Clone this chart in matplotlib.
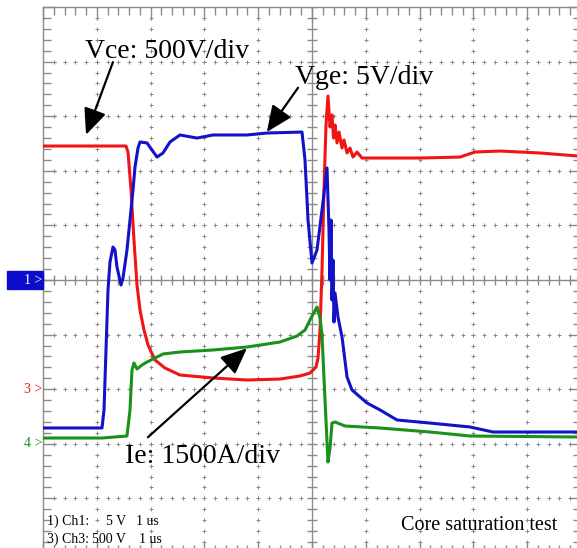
import matplotlib
matplotlib.use("Agg")
import matplotlib.pyplot as plt
import matplotlib.transforms as mtransforms
from matplotlib.patches import Rectangle
import numpy as np

# scope settings (per division) and ground offsets (divisions from centre)
T_DIV = 1.0          # us/div
CH1_SCALE = 5.0      # Vge, V/div
CH3_SCALE = 500.0    # Vce, V/div
CH4_SCALE = 1500.0   # Ie, A/div
CH1_OFS = 0.0
CH3_OFS = -2.0
CH4_OFS = -3.0

# Vce (ch3), red
t_vce = [0.0, 1.543, 1.580, 1.636, 1.691, 1.747, 1.803, 1.877, 1.952, 2.082,
         2.268, 2.546, 3.160, 3.792, 4.405, 4.777, 4.963, 5.074, 5.112, 5.149,
         5.186, 5.223, 5.260, 5.297, 5.335, 5.372, 5.400, 5.428, 5.465, 5.502,
         5.558, 5.595, 5.651, 5.706, 5.762, 5.836, 5.929, 6.264, 7.007, 7.751,
         8.030, 8.494, 9.238, 9.926]
vce = [2227, 2227, 2172, 1824, 1366, 954, 725, 542, 405, 267,
       194, 130, 103, 84, 93, 121, 148, 203, 286, 542,
       1092, 1824, 2419, 2685, 2401, 2511, 2300, 2419, 2255, 2355,
       2209, 2282, 2163, 2209, 2126, 2172, 2117, 2117, 2117, 2126,
       2172, 2181, 2163, 2136]

# Vge (ch1), blue
t_vge = [0.0, 1.097, 1.134, 1.171, 1.208, 1.245, 1.301, 1.338, 1.375, 1.450,
         1.487, 1.561, 1.617, 1.673, 1.710, 1.766, 1.803, 1.933, 2.026, 2.119,
         2.230, 2.361, 2.546, 2.862, 3.160, 3.792, 4.164, 4.814, 4.870, 4.926,
         5.000, 5.093, 5.186, 5.279, 5.316, 5.335, 5.353, 5.372, 5.390, 5.409,
         5.428, 5.483, 5.558, 5.651, 5.743, 5.892, 6.022, 6.264, 6.580, 7.193,
         7.937, 8.364, 9.926]
vge = [-13.55, -13.55, -11.90, -6.41, -0.92, 1.65, 3.02, 2.75, 1.19, -0.46,
       0.18, 2.75, 5.49, 8.24, 10.35, 12.09, 12.64, 12.55, 11.90, 11.26,
       11.63, 12.64, 13.28, 13.00, 13.28, 13.28, 13.46, 13.55, 10.99, 5.49,
       1.56, 2.75, 6.41, 10.26, 4.58, 0.0, 5.49, -1.83, 1.83, -3.85,
       -1.19, -3.39, -5.22, -8.88, -10.07, -10.71, -11.26, -11.90, -12.82, -13.10,
       -13.46, -13.92, -13.92]

# Ie (ch4), green
t_ie = [0.0, 1.097, 1.561, 1.617, 1.654, 1.691, 1.747, 1.840, 1.933, 2.230,
        2.546, 3.160, 3.792, 4.405, 4.721, 4.870, 4.963, 5.093, 5.149, 5.186,
        5.242, 5.297, 5.335, 5.372, 5.428, 5.613, 6.264, 7.193, 7.937, 9.926]
ie = [159, 159, 214, 928, 2027, 2220, 2055, 2165, 2247, 2467,
      2522, 2577, 2659, 2796, 2961, 3126, 3401, 3758, 3456, 2989,
      1203, -500, -115, 572, 599, 489, 434, 324, 214, 187]

RED = "#f01414"
BLUE = "#1212c8"
GREEN = "#1a911a"
GRAY = "#8a8a8a"

W, H = 577, 548
fig = plt.figure(figsize=(W / 100, H / 100), dpi=100)
fig.patch.set_facecolor("white")
plt.rcParams["font.family"] = ["Liberation Serif", "DejaVu Serif"]

# screen spans 10 x 10 div; it is cut off at the right and bottom
ax = fig.add_axes([43 / W, (H - 553) / H, 538 / W, 546 / H])
ax.set_xlim(0, 10)
ax.set_ylim(-5, 5)
for s in ax.spines.values():
    s.set_color(GRAY)
    s.set_linewidth(1.0)
ax.set_xticks(np.arange(0, 10.01, 1))
ax.set_yticks(np.arange(-5, 5.01, 1))
ax.set_xticks(np.arange(0, 10.01, 0.2), minor=True)
ax.set_yticks(np.arange(-5, 5.01, 0.2), minor=True)
ax.tick_params(which="both", direction="in", colors=GRAY, labelleft=False,
               labelbottom=False, top=True, right=True)
ax.tick_params(which="major", length=9, width=1)
ax.tick_params(which="minor", length=6, width=1)

# graticule: centre axes with ticks, dotted division lines
ax.axhline(0, color=GRAY, lw=1, zorder=1)
ax.axvline(5, color=GRAY, lw=1, zorder=1)
minor = np.arange(0, 10.01, 0.2)
minor_y = np.arange(-5, 5.01, 0.2)
ax.plot(minor, np.zeros_like(minor), ls="none", marker="|", ms=7, mew=1,
        color=GRAY, zorder=1)
ax.plot(np.full_like(minor_y, 5), minor_y, ls="none", marker="_", ms=7, mew=1,
        color=GRAY, zorder=1)
for k in range(-4, 5):
    if k != 0:
        ax.plot(minor, np.full_like(minor, k), ls="none", marker="+", ms=3,
                mew=0.7, color=GRAY, zorder=1)
for k in range(1, 10):
    if k != 5:
        ax.plot(np.full_like(minor_y, k), minor_y, ls="none", marker="+",
                ms=3, mew=0.7, color=GRAY, zorder=1)

# traces
def to_div(vals, scale, ofs):
    return np.asarray(vals, dtype=float) / scale + ofs

ax.plot(np.asarray(t_vce) / T_DIV, to_div(vce, CH3_SCALE, CH3_OFS), color=RED,
        lw=2.2, zorder=3)
ax.plot(np.asarray(t_ie) / T_DIV, to_div(ie, CH4_SCALE, CH4_OFS), color=GREEN,
        lw=2.2, zorder=4)
ax.plot(np.asarray(t_vge) / T_DIV, to_div(vge, CH1_SCALE, CH1_OFS), color=BLUE,
        lw=2.2, zorder=5)

# annotations
arrow = dict(arrowstyle="-|>,head_length=0.8,head_width=0.35", color="black",
             lw=1.6, mutation_scale=20, shrinkA=0, shrinkB=0)
ax.text(0.78, 4.07, "Vce: 500V/div", fontsize=20, ha="left", va="baseline",
        zorder=6)
ax.annotate("", xy=(0.80, 2.66), xytext=(1.30, 3.99), arrowprops=arrow,
            zorder=6)
ax.text(4.68, 3.59, "Vge: 5V/div", fontsize=20, ha="left", va="baseline",
        zorder=6)
ax.annotate("", xy=(4.16, 2.71), xytext=(4.74, 3.52), arrowprops=arrow,
            zorder=6)
ax.text(1.52, -3.35, "Ie: 1500A/div", fontsize=20, ha="left", va="baseline",
        zorder=6)
ax.annotate("", xy=(3.79, -1.25), xytext=(1.95, -2.88), arrowprops=arrow,
            zorder=6)

# channel ground markers
bt = mtransforms.blended_transform_factory(fig.transFigure, ax.transData)
fig.patches.append(Rectangle((7 / W, CH1_OFS - 0.16), 36 / W, 0.32,
                             transform=bt, color="#0c0ccc", zorder=2))
fig.text(42 / W, CH1_OFS, "1 >", transform=bt, color="white", fontsize=10,
         ha="right", va="center")
fig.text(42 / W, CH3_OFS, "3 >", transform=bt, color=RED, fontsize=10,
         ha="right", va="center")
fig.text(42 / W, CH4_OFS, "4 >", transform=bt, color=GREEN, fontsize=10,
         ha="right", va="center")

# scope info text
fig.text(47 / W, 1 - 525 / H, "1) Ch1:", fontsize=10, va="baseline")
fig.text(126 / W, 1 - 525 / H, "5 V", fontsize=10, va="baseline", ha="right")
fig.text(136 / W, 1 - 525 / H, "1 us", fontsize=10, va="baseline")
fig.text(47 / W, 1 - 543 / H, "3) Ch3:", fontsize=10, va="baseline")
fig.text(126 / W, 1 - 543 / H, "500 V", fontsize=10, va="baseline", ha="right")
fig.text(139 / W, 1 - 543 / H, "1 us", fontsize=10, va="baseline")
fig.text(401 / W, 1 - 530 / H, "Core saturation test", fontsize=14.5,
         va="baseline")

fig.savefig("out.png", dpi=100)
